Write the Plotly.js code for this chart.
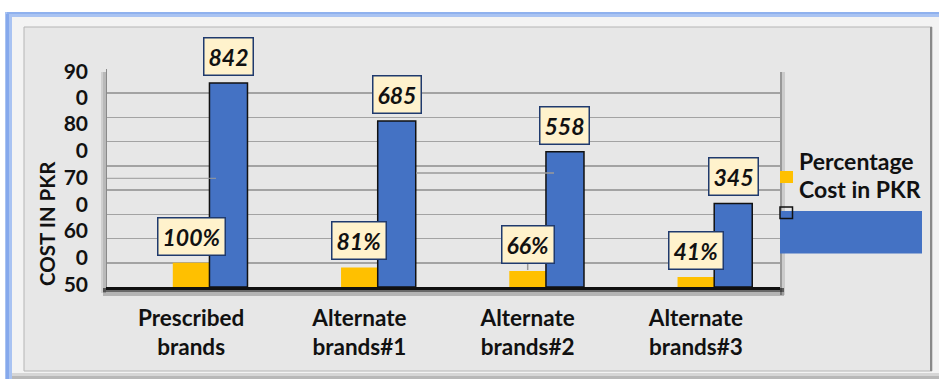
<!DOCTYPE html>
<html>
<head>
<meta charset="utf-8">
<script src="https://cdn.plot.ly/plotly-3.0.1.min.js"></script>
<style>html,body{margin:0;padding:0;background:#fff;}#chart{width:939px;height:379px;}</style>
</head>
<body>
<div id="chart"></div>
<script>
// ---- data ----
const categories = ["Prescribed<br>brands", "Alternate<br>brands#1", "Alternate<br>brands#2", "Alternate<br>brands#3"];
const percentageValues = [100, 81, 66, 41];
const costValues = [842, 685, 558, 345];
const seriesNames = ["Percentage", "Cost in PKR"];
const yTickValues = [889, 781, 673, 563, 451, 341, 231, 123, 11];
const yTickLabels = ["90", "0", "80", "0", "70", "0", "60", "0", "50"];
const yAxisTitle = "COST IN PKR";

// ---- geometry helpers (plot area in pixels) ----
const L = 107, T = 69, W = 673, H = 218;
const px = x => (x - L) / W;
const py = y => (T + H - y) / H;
function rect(x0, y0, x1, y1, fill, line, layer) {
  return {type: 'rect', xref: 'paper', yref: 'paper', x0: px(x0), x1: px(x1), y0: py(y1), y1: py(y0),
    fillcolor: fill, line: line || {width: 0}, layer: layer || 'below'};
}
function seg(x0, y0, x1, y1, color, width, layer) {
  return {type: 'line', xref: 'paper', yref: 'paper', x0: px(x0), x1: px(x1), y0: py(y0), y1: py(y1),
    line: {color: color, width: width}, layer: layer || 'above'};
}

const FONT = 'Lato, "Open Sans", sans-serif';
const ORANGE = '#ffc000', BLUE = '#4472c4';

const OFF_O = -0.109, W_O = 0.218, OFF_B = 0.109, W_B = 0.226;

const traces = [
  {type: 'bar', name: seriesNames[0], x: categories, y: percentageValues,
   offset: OFF_O, width: W_O, marker: {color: ORANGE, line: {width: 0}}, hoverinfo: 'skip'},
  {type: 'bar', name: seriesNames[1], x: categories, y: costValues,
   offset: OFF_B, width: W_B, marker: {color: BLUE, line: {color: '#111111', width: 1.5}}, hoverinfo: 'skip'},
  {type: 'scatter', x: categories, y: costValues, yaxis: 'y2', mode: 'none', hoverinfo: 'skip', showlegend: false}
];

const annotations = [];
const boxStyle = {bgcolor: '#fff2cc', bordercolor: '#1f3a6e', borderwidth: 1.5, borderpad: 4,
  font: {family: FONT, size: 23, color: '#111', weight: 'bold', style: 'italic'},
  showarrow: false, xref: 'x', yref: 'y', yanchor: 'bottom', yshift: 7};
percentageValues.forEach((v, i) => annotations.push(Object.assign({}, boxStyle, {
  x: i + OFF_O + W_O / 2, y: v, text: v + '%'})));
costValues.forEach((v, i) => annotations.push(Object.assign({}, boxStyle, {
  x: i + OFF_B + W_B / 2, y: v, text: String(v)})));

// y axis title
annotations.push({text: yAxisTitle, textangle: -90, xref: 'paper', yref: 'paper', x: px(47), y: py(224),
  xanchor: 'center', yanchor: 'middle', showarrow: false, font: {family: FONT, size: 20.5, color: '#111', weight: 'bold'}});
// custom legend text
annotations.push({text: seriesNames[0], xref: 'paper', yref: 'paper', x: px(797), y: py(161), xanchor: 'left', yanchor: 'middle',
  showarrow: false, font: {family: FONT, size: 23, color: '#111', weight: 'bold'}});
annotations.push({text: seriesNames[1], xref: 'paper', yref: 'paper', x: px(797), y: py(189), xanchor: 'left', yanchor: 'middle',
  showarrow: false, font: {family: FONT, size: 23, color: '#111', weight: 'bold'}});

const shapes = [
  // outer frame
  rect(5, 12, 939, 17, '#a9c3f2'),
  rect(7, 12, 939, 14, '#8fb1ee'),
  rect(5, 14, 12, 379, '#a9c3f2'),
  rect(6, 14, 9, 379, '#86a9ec'),
  rect(12, 17, 939, 379, '#f3f3f3'),
  // panel
  rect(24, 27, 932, 371, '#e7e7e7', {color: '#b5b5b5', width: 1}),
  rect(930, 27, 932, 371, '#8a8a8a'),
  rect(12, 373, 939, 379, '#d6d6d6'),
  rect(12, 376, 939, 379, '#b8b8b8'),
  // plot area shadows
  rect(101, 72, 106, 293, 'rgba(0,0,0,0.10)'),
  rect(103, 72, 106, 293, 'rgba(0,0,0,0.10)'),
  rect(780, 72, 785, 295, 'rgba(0,0,0,0.12)'),
  rect(780, 72, 782, 295, 'rgba(0,0,0,0.25)'),
  rect(103, 288, 784, 292, 'rgba(0,0,0,0.55)'),
  rect(103, 292, 784, 296, 'rgba(0,0,0,0.22)'),
  // stray leader lines
  seg(107, 178.3, 216, 178.3, '#9a9a9a', 1),
  seg(416, 173, 554, 173, '#9a9a9a', 1.5),
  seg(527.7, 262.5, 527.7, 270, '#9a9a9a', 1.5),
  // custom legend
  rect(780, 171, 793, 183, ORANGE, null, 'above'),
  rect(780, 211, 922, 253.5, BLUE, null, 'above'),
  rect(780, 207, 792.5, 218.5, 'rgba(0,0,0,0)', {color: '#111', width: 1.5}, 'above')
];

const layout = {
  width: 939, height: 379,
  margin: {l: L, r: 939 - L - W, t: T, b: 379 - T - H, pad: 0},
  paper_bgcolor: '#ffffff', plot_bgcolor: 'rgba(0,0,0,0)',
  showlegend: false, barmode: 'overlay',
  font: {family: FONT, color: '#111'},
  xaxis: {type: 'category', range: [-0.5, 3.5], showgrid: false, zeroline: false,
    showline: true, linecolor: '#111', linewidth: 3, ticks: '', ticklabelstandoff: 9,
    tickfont: {family: FONT, size: 22.5, color: '#111', weight: 'bold'}},
  yaxis: {range: [0, 900], dtick: 100, tick0: 0, showticklabels: false, ticks: '',
    showgrid: true, gridcolor: '#a3a3a3', gridwidth: 1.5, zeroline: false,
    showline: true, linecolor: '#8a8a8a', linewidth: 1.5},
  yaxis2: {range: [0, 900], overlaying: 'y', side: 'left', tickmode: 'array',
    tickvals: yTickValues, ticktext: yTickLabels, showgrid: false, zeroline: false, showline: false,
    ticks: '', ticklabelstandoff: 18,
    tickfont: {family: FONT, size: 21, color: '#111', weight: 'bold'}},
  shapes: shapes,
  annotations: annotations
};

Plotly.newPlot('chart', traces, layout, {staticPlot: true, displayModeBar: false});
</script>
</body>
</html>
